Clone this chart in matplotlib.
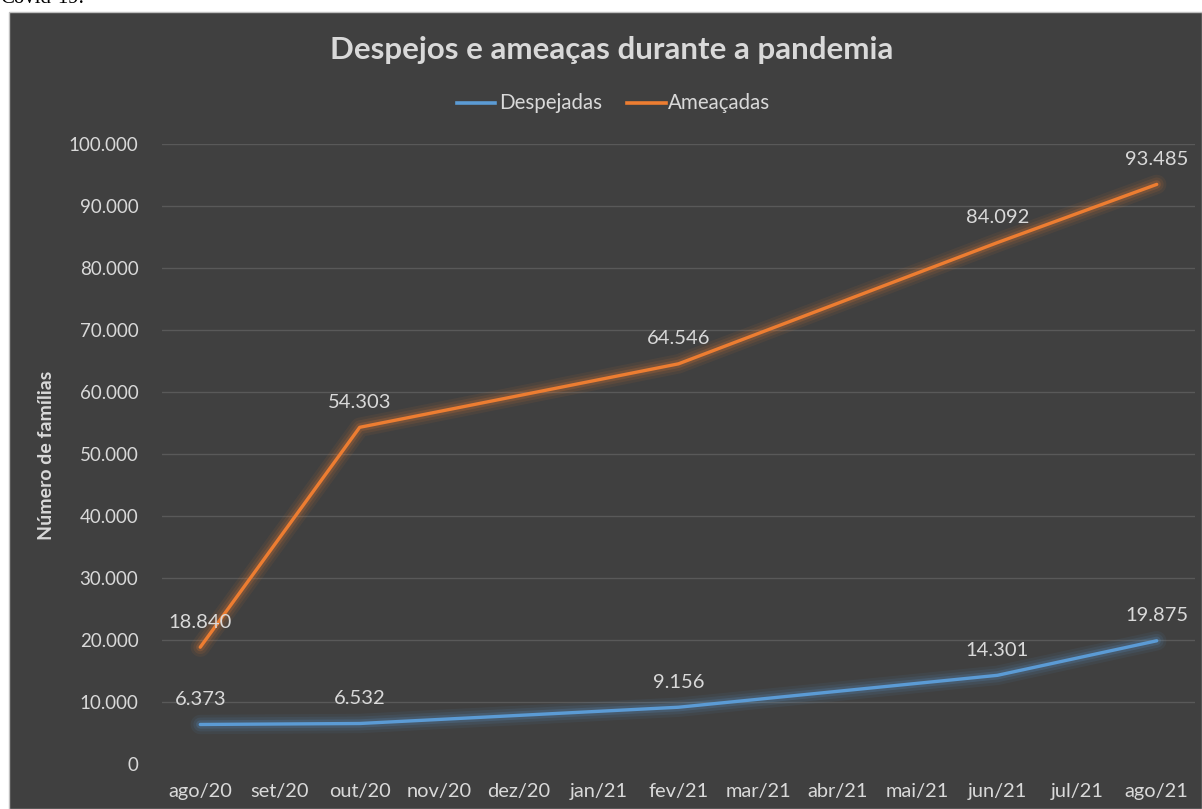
import matplotlib
matplotlib.use("Agg")
import matplotlib.pyplot as plt
import matplotlib.patheffects as pe
import matplotlib.patches as patches
import numpy as np

months = ["ago/20", "set/20", "out/20", "nov/20", "dez/20", "jan/21", "fev/21",
          "mar/21", "abr/21", "mai/21", "jun/21", "jul/21", "ago/21"]
# only some months have data; the rest are gaps that the line bridges
despejadas = [6373, None, 6532, None, None, None, 9156, None, None, None, 14301, None, 19875]
ameacadas = [18840, None, 54303, None, None, None, 64546, None, None, None, 84092, None, 93485]
yticks = [0, 10000, 20000, 30000, 40000, 50000, 60000, 70000, 80000, 90000, 100000]

BG = "#404040"
TXT = "#d9d9d9"
BLUE = "#5b9bd5"
ORANGE = "#ed7d31"

plt.rcParams["font.family"] = ["Lato", "DejaVu Sans"]

W, H = 1202, 809
fig = plt.figure(figsize=(W / 100, H / 100), dpi=100, facecolor="white")

# dark chart box
fig.patches.append(patches.Rectangle((9 / W, 0), 1 - 9 / W, 1 - 12 / H,
                                     transform=fig.transFigure, facecolor=BG,
                                     edgecolor="#bfbfbf", lw=1, zorder=-5))
fig.text(0.0, 1 - 3 / H, "Covid-19.", family="Liberation Serif", fontsize=15,
         color="black", va="baseline", ha="left")

ax = fig.add_axes([162 / W, 1 - 764 / H, (1195 - 162) / W, (764 - 144) / H])
ax.set_zorder(2)
ax.patch.set_alpha(0)
for s in ax.spines.values():
    s.set_visible(False)

x = np.arange(len(months))


def plot_series(vals, color):
    xs = [i for i, v in enumerate(vals) if v is not None]
    ys = [v for v in vals if v is not None]
    glow = [pe.Stroke(linewidth=14, foreground=color, alpha=0.07),
            pe.Stroke(linewidth=10, foreground=color, alpha=0.1),
            pe.Stroke(linewidth=6, foreground=color, alpha=0.18),
            pe.Normal()]
    ax.plot(xs, ys, color=color, lw=2.4, solid_capstyle="round",
            path_effects=glow, zorder=3)
    for xi, yi in zip(xs, ys):
        ax.annotate(f"{yi:,}".replace(",", "."), (xi, yi), xytext=(0, 12),
                    textcoords="offset points", ha="center", va="bottom",
                    color=TXT, fontsize=14.5, zorder=4)


plot_series(despejadas, BLUE)
plot_series(ameacadas, ORANGE)

ax.set_xlim(-0.48, 12.48)
ax.set_ylim(0, 100000)
ax.set_xticks(x)
ax.set_xticklabels(months)
ax.set_yticks(yticks)
ax.set_yticklabels([f"{v:,}".replace(",", ".") for v in yticks])
ax.tick_params(axis="both", length=0, colors=TXT)
ax.tick_params(axis="y", pad=17, labelsize=13.5)
ax.tick_params(axis="x", pad=14, labelsize=14.4)
for v in yticks[1:]:
    ax.axhline(v, color="#595959", lw=1, zorder=1)

fig.text(47 / W, 1 - 455 / H, "Número de famílias", rotation=90,
         ha="center", va="center", color=TXT, fontsize=14, fontweight="bold")

fig.text(612 / W, 1 - 50 / H, "Despejos e ameaças durante a pandemia",
         ha="center", va="center", color=TXT, fontsize=22.5, fontweight="bold")

# legend
leg_y = 1 - 103 / H
fig.lines.append(plt.Line2D([457 / W, 495 / W], [leg_y, leg_y], color=BLUE,
                            lw=2.6, transform=fig.transFigure))
fig.text(499 / W, leg_y, "Despejadas", color=TXT, fontsize=14.8,
         ha="left", va="center")
fig.lines.append(plt.Line2D([627 / W, 666 / W], [leg_y, leg_y], color=ORANGE,
                            lw=2.6, transform=fig.transFigure))
fig.text(668 / W, leg_y, "Ameaçadas", color=TXT, fontsize=14.8,
         ha="left", va="center")

fig.savefig("out.png", dpi=100, facecolor="white")
